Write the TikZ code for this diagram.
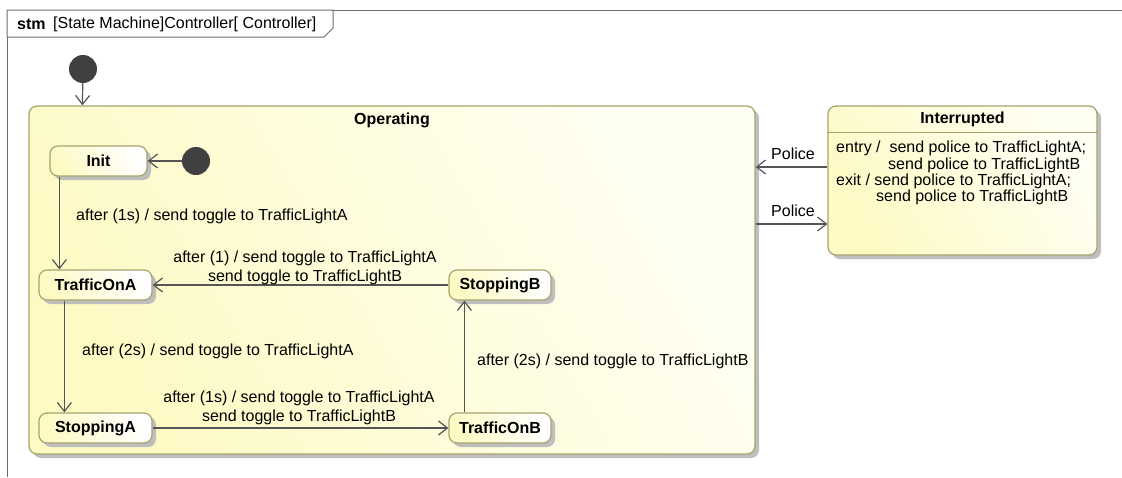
\documentclass[tikz,border=0pt]{standalone}
\usepackage{fontspec}
\setmainfont{Liberation Sans}
\usetikzlibrary{arrows.meta,shadows}
\definecolor{edgeline}{HTML}{A6A46E}
\definecolor{ink}{HTML}{555555}
\definecolor{framegray}{HTML}{6E6E6E}
\definecolor{ylw}{HTML}{FDFAC4}
\definecolor{ylwlight}{HTML}{FFFFF4}
\definecolor{shadowgray}{HTML}{BEBEBE}
\definecolor{dot}{HTML}{404040}

\begin{document}
\begin{tikzpicture}[x=1pt,y=-1pt,
  font=\fontsize{16}{19}\selectfont,
  shadowed/.style={drop shadow={shadow xshift=4pt,shadow yshift=-4pt,fill=shadowgray,opacity=1}},
  statebox/.style={draw=edgeline,line width=1.2pt,rounded corners=8pt,shadowed,
    bottom color=ylw,top color=white,shading angle=-60,
    font=\fontsize{16}{19}\selectfont\bfseries,inner sep=0pt,minimum height=30pt},
  composite/.style={draw=edgeline,line width=1.2pt,rounded corners=8pt,shadowed,
    bottom color=ylw,top color=ylwlight,shading angle=-60,inner sep=0pt},
  titletext/.style={font=\fontsize{16}{19}\selectfont\bfseries,inner sep=0pt},
  lbl/.style={inner sep=0pt,font=\fontsize{16}{19}\selectfont},
  initial/.style={circle,fill=dot,minimum size=28pt,inner sep=0pt},
  tr/.style={draw=ink,line width=1.2pt,-{Straight Barb[length=9pt,width=14pt,line width=1.2pt]}}
]
\useasboundingbox (0,0) rectangle (1122,477);

% diagram frame and its name tab
\draw[framegray,line width=1pt] (7,477) -- (7,10) -- (1122,10);
\draw[framegray,line width=1pt,fill=white] (7,10) -- (333,10) -- (333,28) -- (324,37) -- (7,37) -- cycle;
\node[anchor=west,inner sep=0pt,font=\fontsize{16}{19}\selectfont\bfseries] (kind) at (17,24) {stm};
\node[anchor=west,inner sep=0pt] (fname) at (53,24) {[State Machine]Controller[ Controller]};

% top level initial state
\node[initial] (start) at (83,69) {};

% composite state Operating
\node[composite,minimum width=726pt,minimum height=348pt] (op) at (392,280) {};
\node[titletext] (optitle) at (392,120) {Operating};

% composite state Interrupted
\node[composite,minimum width=269pt,minimum height=149pt] (intr) at (962.5,180.5) {};
\node[titletext] (intrtitle) at (962.5,119) {Interrupted};
\draw[edgeline,line width=1.2pt] ([yshift=-27pt]intr.north west) -- ([yshift=-27pt]intr.north east);
\node[lbl,anchor=west] (en1) at (836,148) {entry /\ \ send police to TrafficLightA;};
\node[lbl,anchor=west] (en2) at (888,165) {send police to TrafficLightB};
\node[lbl,anchor=west] (ex1) at (836,181) {exit / send police to TrafficLightA;};
\node[lbl,anchor=west] (ex2) at (876,197) {send police to TrafficLightB};

% substates
\node[initial] (start2) at (196,161) {};
\node[statebox,minimum width=97pt] (init) at (98.5,161) {Init};
\node[statebox,minimum width=113pt] (ona) at (95.5,285) {TrafficOnA};
\node[statebox,minimum width=113pt] (sa) at (95.5,428) {StoppingA};
\node[statebox,minimum width=102pt] (sb) at (500,285) {StoppingB};
\node[statebox,minimum width=102pt] (onb) at (500,428) {TrafficOnB};

% transitions
\draw[tr] (start) -- ([xshift=54pt]op.north west);
\draw[tr] (start2) -- (init);
\draw[tr] ([xshift=10pt]init.south west) -- ([xshift=21pt]ona.north west);
\node[lbl,anchor=west] (t1) at (76,216) {after (1s) / send toggle to TrafficLightA};
\draw[tr] (sb) -- (ona);
\node[lbl,align=center] (t2) at (305,267.5) {after (1) / send toggle to TrafficLightA\\send toggle to TrafficLightB};
\draw[tr] ([xshift=26pt]ona.south west) -- ([xshift=26pt]sa.north west);
\node[lbl,anchor=west] (t3) at (82,351) {after (2s) / send toggle to TrafficLightA};
\draw[tr] (sa) -- (onb);
\node[lbl,align=center] (t4) at (299,407.5) {after (1s) / send toggle to TrafficLightA\\send toggle to TrafficLightB};
\draw[tr] ([xshift=16pt]onb.north west) -- ([xshift=16pt]sb.south west);
\node[lbl,anchor=west] (t5) at (477,361) {after (2s) / send toggle to TrafficLightB};

% Police transitions between the two composite states
\draw[tr] ([yshift=13.5pt]intr.west) -- ([yshift=13.5pt]intr.west -| op.east);
\node[lbl] (p1) at (793,154) {Police};
\draw[tr] ([yshift=-43.5pt]intr.west -| op.east) -- ([yshift=-43.5pt]intr.west);
\node[lbl] (p2) at (793,211) {Police};
\end{tikzpicture}
\end{document}
